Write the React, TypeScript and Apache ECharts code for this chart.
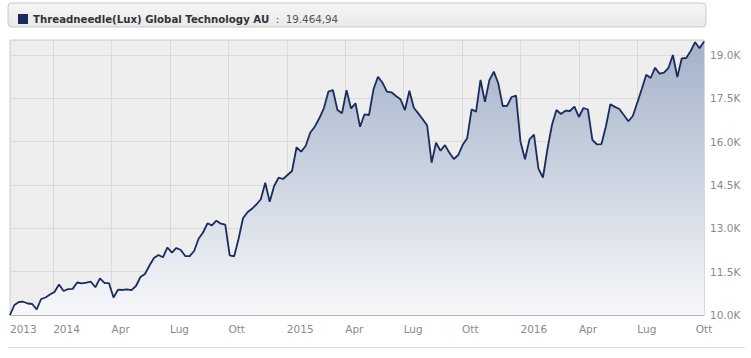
import React, { useEffect, useRef } from 'react';
import * as echarts from 'echarts';

// ---- data ----
const SERIES_NAME = 'Threadneedle(Lux) Global Technology AU';
const LAST_VALUE_LABEL = '19.464,94';
// weekly observations (Fridays), first one:
const FIRST_DATE = '2013-10-25';
const STEP_DAYS = 7;
const QUARTER_LABELS = ['Apr', 'Lug', 'Ott'];
const Y_MIN = 10000;
const Y_MAX = 19520;
const Y_STEP = 1500;

const VALUES = [
  10000, 10346, 10450, 10460, 10398, 10381, 10190, 10554, 10606, 10710,
  10796, 11056, 10831, 10895, 10905, 11125, 11091, 11118, 11153, 10959,
  11271, 11108, 11100, 10606, 10876, 10866, 10890, 10860, 11004, 11316,
  11419, 11714, 11973, 12077, 11998, 12337, 12157, 12320, 12250, 12043,
  12040, 12216, 12642, 12856, 13175, 13105, 13265, 13161, 13126, 12067,
  12032, 12640, 13348, 13555, 13677, 13826, 14006, 14580, 13922, 14466,
  14753, 14708, 14847, 14985, 15806, 15654, 15851, 16311, 16519, 16810,
  17156, 17731, 17790, 17097, 16983, 17785, 17150, 17329, 16515, 16948,
  16924, 17814, 18250, 18042, 17735, 17710, 17582, 17468, 17095, 17765,
  17177, 16980, 16775, 16561, 15273, 15965, 15688, 15880, 15619, 15401,
  15539, 15890, 16117, 17121, 17038, 18136, 17384, 18130, 18423, 18021,
  17236, 17243, 17547, 17592, 16000, 15390, 16076, 16242, 15061, 14760,
  15747, 16578, 17097, 16959, 17073, 17062, 17211, 16855, 17166, 17114,
  16059, 15910, 15913, 16526, 17298, 17205, 17132, 16924, 16706, 16889,
  17357, 17824, 18319, 18205, 18562, 18354, 18388, 18551, 19001, 18240,
  18887, 18897, 19140, 19444, 19233, 19464.94,
];

// time -> quarters since 1 Jan 2014 (each calendar quarter = 1 unit)
function toQuarter(ms: number): number {
  const d = new Date(ms);
  const y = d.getUTCFullYear();
  const qi = Math.floor(d.getUTCMonth() / 3);
  const start = Date.UTC(y, qi * 3, 1);
  const end = Date.UTC(y, qi * 3 + 3, 1);
  return (y - 2014) * 4 + qi + (ms - start) / (end - start);
}

function quarterLabel(v: number): string {
  const r = Math.round(v);
  if (Math.abs(v - r) > 1e-6) {
    return String(2014 + Math.floor(v / 4));
  }
  const idx = ((r % 4) + 4) % 4;
  if (idx === 0) return String(2014 + Math.round(r / 4));
  return QUARTER_LABELS[idx - 1];
}

export default function App() {
  const ref = useRef<HTMLDivElement>(null);
  useEffect(() => {
    const chart = echarts.init(ref.current!, null, { renderer: 'svg' });
    const startMs = Date.parse(FIRST_DATE + 'T00:00:00Z');
    const dayMs = 86400000;
    const data = VALUES.map((v, i) => [toQuarter(startMs + i * STEP_DAYS * dayMs), v]);
    const xMin = data[0][0];
    const xMax = data[data.length - 1][0];
    const labelColor = '#8a8a8a';
    const font = 'DejaVu Sans';

    chart.setOption({
      animation: false,
      textStyle: { fontFamily: font },
      graphic: [
        {
          type: 'rect',
          z: -1,
          shape: { x: 8, y: 3, width: 698, height: 24, r: 4 },
          style: {
            fill: new echarts.graphic.LinearGradient(0, 0, 0, 1, [
              { offset: 0, color: '#f6f6f6' },
              { offset: 1, color: '#e9e9e9' },
            ]),
            stroke: '#c8c8c8',
            lineWidth: 1,
          },
        },
        {
          type: 'line',
          shape: { x1: 8, y1: 347.5, x2: 745, y2: 347.5 },
          style: { stroke: '#dddddd', lineWidth: 1 },
        },
      ],
      legend: {
        left: 13,
        top: 9,
        itemWidth: 10,
        itemHeight: 10,
        selectedMode: false,
        data: [{ name: SERIES_NAME, icon: 'rect' }],
        formatter: (name: string) => `{b|${name}}{v|  :  ${LAST_VALUE_LABEL}}`,
        textStyle: {
          fontFamily: font,
          rich: {
            b: { fontWeight: 'bold', fontSize: 10.2, color: '#333333', fontFamily: font },
            v: { fontSize: 10.3, color: '#555555', fontFamily: font },
          },
        },
      },
      grid: {
        left: 10,
        right: 47,
        top: 40,
        bottom: 43,
        show: true,
        backgroundColor: '#eeeeee',
        borderColor: '#d0d0d0',
        borderWidth: 1,
      },
      xAxis: {
        type: 'value',
        min: xMin,
        max: xMax,
        splitNumber: 12,
        minInterval: 1,
        maxInterval: 1,
        axisLine: { show: true, lineStyle: { color: '#b5b5b5', width: 1 } },
        axisTick: { show: false },
        splitLine: { show: true, lineStyle: { color: '#d9d9d9', width: 1 } },
        axisLabel: {
          show: true,
          align: 'left',
          margin: 8,
          color: labelColor,
          fontSize: 10.5,
          fontFamily: font,
          showMinLabel: true,
          showMaxLabel: false,
          formatter: (v: number) => quarterLabel(v),
        },
      },
      yAxis: {
        type: 'value',
        position: 'right',
        min: Y_MIN,
        max: Y_MAX,
        interval: Y_STEP,
        axisLine: { show: false },
        axisTick: { show: false },
        splitLine: { show: true, lineStyle: { color: '#d9d9d9', width: 1 } },
        axisLabel: {
          margin: 6,
          color: labelColor,
          fontSize: 10.5,
          fontFamily: font,
          showMaxLabel: false,
          formatter: (v: number) => (v / 1000).toFixed(1) + 'K',
        },
      },
      series: [
        {
          name: SERIES_NAME,
          type: 'line',
          data,
          symbol: 'none',
          itemStyle: { color: '#1c2b5e' },
          lineStyle: { color: '#1c2b5e', width: 1.8 },
          areaStyle: {
            color: new echarts.graphic.LinearGradient(0, 0, 0, 1, [
              { offset: 0, color: '#a3b2c9' },
              { offset: 1, color: '#f7f8fa' },
            ]),
            opacity: 1,
          },
        },
      ],
    });
    return () => chart.dispose();
  }, []);
  return (
    <div
      ref={ref}
      style={{ position: 'absolute', left: 0, top: 0, width: 751, height: 358 }}
    />
  );
}
